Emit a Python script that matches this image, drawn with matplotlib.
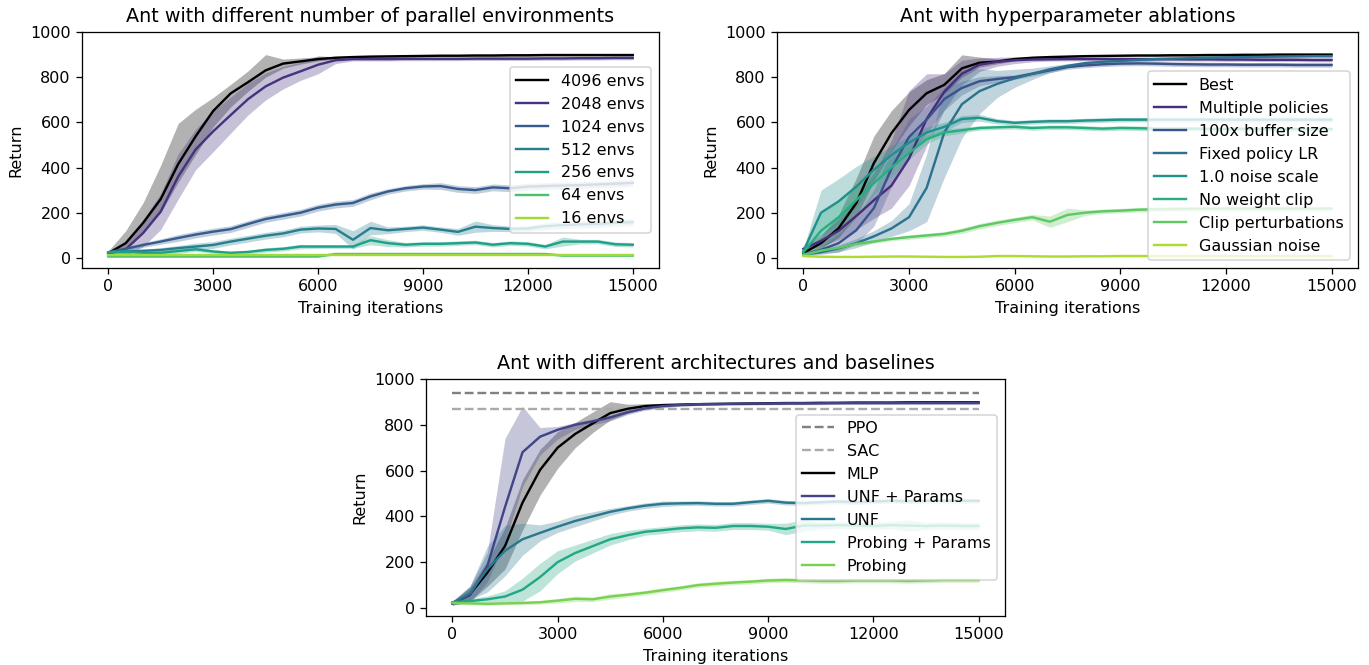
import matplotlib
matplotlib.use("Agg")
import matplotlib.pyplot as plt
import numpy as np

# ---------------- shared x grid ----------------
iterations = [0, 500, 1000, 1500, 2000, 2500, 3000, 3500, 4000, 4500, 5000,
              5500, 6000, 6500, 7000, 7500, 8000, 8500, 9000, 9500, 10000,
              10500, 11000, 11500, 12000, 12500, 13000, 13500, 14000, 14500, 15000]
xticks = [0, 3000, 6000, 9000, 12000, 15000]
yticks = [0, 200, 400, 600, 800, 1000]

# ---------------- panel 1: parallel environments ----------------
env_labels = ["4096 envs", "2048 envs", "1024 envs", "512 envs", "256 envs", "64 envs", "16 envs"]
env4096_mean = [20, 65, 155, 260, 415, 538, 650, 728, 778, 830, 860, 870, 880, 886, 889, 891, 892, 893, 894, 895, 895, 896, 896, 897, 897, 898, 898, 898, 898, 898, 898]
env4096_dn = [8, 25, 40, 60, 80, 80, 70, 60, 40, 30, 20, 12, 8, 6, 5, 5, 5, 5, 5, 5, 5, 5, 5, 5, 5, 5, 5, 5, 5, 5, 5]
env4096_up = [10, 55, 90, 150, 180, 120, 60, 40, 50, 70, 20, 15, 10, 6, 5, 5, 5, 5, 5, 5, 5, 5, 5, 5, 5, 5, 5, 5, 5, 5, 5]
env2048_mean = [20, 38, 110, 205, 360, 480, 560, 632, 703, 759, 798, 826, 855, 875, 880, 880, 880, 881, 881, 881, 881, 882, 882, 882, 882, 883, 883, 884, 884, 885, 885]
env2048_band = [10, 30, 60, 80, 100, 90, 90, 80, 70, 60, 50, 40, 40, 15, 8, 8, 8, 8, 8, 8, 8, 8, 8, 8, 8, 8, 8, 8, 8, 8, 8]
env1024_mean = [25, 40, 57, 72, 88, 103, 116, 127, 150, 172, 186, 200, 222, 236, 243, 272, 294, 308, 316, 318, 305, 300, 312, 308, 315, 318, 320, 322, 325, 328, 332]
env1024_band = [5, 8, 10, 12, 15, 15, 15, 15, 15, 15, 15, 15, 15, 15, 15, 15, 12, 12, 12, 15, 15, 15, 15, 15, 15, 15, 15, 15, 15, 15, 15]
env512_mean = [25, 28, 31, 35, 43, 50, 57, 72, 85, 98, 108, 125, 130, 128, 80, 132, 122, 128, 134, 125, 115, 138, 132, 128, 130, 140, 145, 148, 150, 155, 158]
env512_band = [5, 8, 8, 10, 12, 15, 15, 15, 15, 15, 15, 15, 15, 20, 40, 30, 15, 12, 12, 12, 15, 25, 15, 12, 12, 15, 15, 15, 15, 15, 15]
env256_mean = [25, 28, 22, 22, 30, 38, 28, 22, 26, 35, 40, 50, 50, 50, 50, 78, 65, 58, 62, 62, 65, 68, 58, 65, 62, 50, 72, 72, 72, 60, 58]
env256_band = [5, 8, 10, 10, 10, 10, 8, 8, 8, 10, 10, 10, 8, 8, 8, 20, 15, 10, 10, 10, 10, 10, 10, 10, 10, 10, 20, 10, 10, 10, 10]
env64_mean = [6, 6, 6, 6, 6, 6, 6, 6, 6, 6, 6, 6, 6, 17, 17, 17, 17, 17, 17, 17, 17, 17, 17, 17, 17, 17, 10, 10, 10, 10, 10]
env64_band = [3, 3, 3, 3, 3, 3, 3, 3, 3, 3, 3, 3, 3, 4, 4, 4, 4, 4, 4, 4, 4, 4, 4, 4, 4, 4, 4, 4, 4, 4, 4]
env16_mean = [13, 13, 13, 13, 13, 13, 13, 13, 13, 13, 13, 13, 13, 13, 13, 13, 13, 13, 13, 13, 13, 13, 13, 13, 13, 13, 13, 13, 13, 13, 13]
env16_band = [3, 3, 3, 3, 3, 3, 3, 3, 3, 3, 3, 3, 3, 3, 3, 3, 3, 3, 3, 3, 3, 3, 3, 3, 3, 3, 3, 3, 3, 3, 3]

# ---------------- panel 2: hyperparameter ablations ----------------
abl_labels = ["Best", "Multiple policies", "100x buffer size", "Fixed policy LR",
              "1.0 noise scale", "No weight clip", "Clip perturbations", "Gaussian noise"]
best_mean = [21, 65, 131, 242, 419, 552, 655, 729, 766, 839, 864, 869, 880, 886, 889, 891, 893, 894, 895, 896, 896, 897, 897, 898, 898, 899, 899, 900, 900, 900, 900]
best_dn = [8, 25, 40, 60, 80, 80, 70, 50, 40, 40, 20, 10, 8, 6, 5, 5, 5, 5, 5, 5, 5, 5, 5, 5, 5, 5, 5, 5, 5, 5, 5]
best_up = [8, 30, 60, 110, 120, 100, 80, 60, 50, 60, 25, 12, 8, 6, 5, 5, 5, 5, 5, 5, 5, 5, 5, 5, 5, 5, 5, 5, 5, 5, 5]
multi_mean = [40, 75, 120, 185, 255, 320, 440, 615, 735, 815, 855, 868, 875, 878, 879, 880, 880, 880, 880, 880, 880, 880, 879, 879, 878, 878, 877, 877, 877, 876, 876]
multi_dn = [10, 25, 40, 60, 80, 100, 120, 120, 80, 50, 30, 20, 15, 10, 8, 8, 8, 8, 8, 8, 8, 8, 8, 8, 8, 8, 8, 8, 8, 8, 8]
multi_up = [10, 30, 50, 80, 120, 200, 300, 200, 80, 60, 30, 20, 15, 10, 8, 8, 8, 8, 8, 8, 8, 8, 8, 8, 8, 8, 8, 8, 8, 8, 8]
buffer_mean = [15, 35, 65, 122, 220, 395, 535, 612, 703, 752, 782, 792, 800, 815, 830, 845, 852, 857, 860, 861, 860, 858, 857, 856, 856, 855, 855, 855, 854, 854, 854]
buffer_band = [5, 15, 40, 60, 80, 80, 80, 60, 50, 30, 20, 15, 10, 10, 10, 10, 10, 10, 10, 10, 10, 10, 10, 10, 10, 10, 10, 10, 10, 10, 10]
fixedlr_mean = [15, 25, 42, 65, 95, 130, 180, 310, 555, 680, 738, 770, 795, 815, 835, 850, 862, 868, 872, 876, 880, 882, 884, 886, 888, 889, 890, 891, 892, 893, 893]
fixedlr_band = [5, 10, 15, 20, 25, 35, 60, 150, 200, 150, 100, 60, 40, 25, 15, 10, 8, 8, 8, 8, 8, 8, 8, 8, 8, 8, 8, 8, 8, 8, 8]
noise_mean = [30, 200, 250, 315, 390, 455, 510, 555, 580, 615, 620, 605, 598, 602, 605, 605, 608, 610, 612, 612, 612, 612, 612, 612, 612, 612, 612, 612, 612, 612, 612]
noise_band = [10, 100, 100, 90, 60, 40, 30, 25, 20, 15, 15, 12, 10, 10, 10, 10, 10, 10, 10, 10, 10, 10, 10, 10, 10, 10, 10, 10, 10, 10, 10]
noclip_mean = [25, 120, 180, 255, 330, 400, 465, 525, 555, 565, 575, 578, 580, 575, 578, 578, 575, 572, 575, 574, 572, 572, 572, 571, 571, 571, 570, 570, 570, 570, 570]
noclip_band = [10, 80, 80, 70, 50, 40, 30, 20, 15, 12, 10, 10, 10, 10, 10, 10, 10, 10, 10, 10, 10, 10, 10, 10, 10, 10, 10, 10, 10, 10, 10]
clipp_mean = [13, 32, 45, 62, 72, 84, 92, 99, 106, 120, 140, 155, 168, 180, 160, 190, 200, 206, 209, 213, 215, 216, 217, 217, 218, 218, 218, 218, 218, 218, 218]
clipp_band = [5, 8, 8, 8, 8, 8, 10, 10, 10, 12, 12, 12, 12, 12, 25, 30, 12, 10, 10, 10, 10, 10, 10, 10, 10, 10, 10, 10, 10, 10, 10]
gauss_mean = [8, 5, 4, 4, 5, 6, 6, 5, 4, 4, 5, 8, 8, 7, 6, 6, 7, 7, 8, 8, 8, 8, 8, 8, 8, 8, 8, 8, 8, 8, 8]
gauss_band = [3, 3, 3, 3, 3, 3, 3, 3, 3, 3, 3, 3, 3, 3, 3, 3, 3, 3, 3, 3, 3, 3, 3, 3, 3, 3, 3, 3, 3, 3, 3]

# ---------------- panel 3: architectures and baselines ----------------
arch_labels = ["MLP", "UNF + Params", "UNF", "Probing + Params", "Probing"]
ppo_return = 937
sac_return = 867
mlp_mean = [20, 60, 155, 270, 460, 603, 700, 760, 806, 851, 870, 882, 886, 888, 890, 891, 892, 893, 894, 895, 895, 896, 896, 897, 897, 897, 898, 898, 898, 898, 898]
mlp_dn = [8, 30, 60, 100, 120, 110, 90, 60, 40, 30, 20, 12, 8, 6, 5, 5, 5, 5, 5, 5, 5, 5, 5, 5, 5, 5, 5, 5, 5, 5, 5]
mlp_up = [8, 30, 50, 80, 100, 90, 70, 50, 50, 50, 20, 10, 8, 6, 5, 5, 5, 5, 5, 5, 5, 5, 5, 5, 5, 5, 5, 5, 5, 5, 5]
unfp_mean = [20, 55, 184, 440, 680, 748, 778, 800, 815, 832, 855, 872, 882, 887, 890, 891, 892, 893, 893, 894, 894, 894, 895, 895, 895, 895, 895, 895, 895, 895, 895]
unfp_dn = [8, 30, 70, 150, 150, 80, 40, 20, 15, 15, 10, 8, 8, 6, 6, 6, 6, 6, 6, 6, 6, 6, 6, 6, 6, 6, 6, 6, 6, 6, 6]
unfp_up = [8, 40, 60, 300, 200, 40, 15, 10, 10, 10, 10, 8, 8, 6, 6, 6, 6, 6, 6, 6, 6, 6, 6, 6, 6, 6, 6, 6, 6, 6, 6]
unf_mean = [22, 65, 170, 250, 300, 328, 355, 380, 400, 420, 435, 447, 455, 457, 458, 455, 455, 462, 468, 460, 458, 462, 465, 462, 465, 468, 466, 468, 468, 468, 468]
unf_band = [8, 30, 100, 110, 70, 35, 25, 25, 20, 15, 12, 12, 12, 10, 10, 10, 10, 10, 10, 10, 10, 10, 10, 10, 10, 10, 10, 10, 10, 10, 10]
probp_mean = [25, 30, 38, 50, 80, 135, 200, 240, 270, 300, 318, 333, 340, 348, 352, 350, 358, 358, 355, 345, 360, 360, 362, 360, 358, 362, 360, 358, 360, 358, 358]
probp_band = [8, 10, 15, 25, 50, 60, 50, 35, 30, 25, 20, 15, 15, 15, 15, 15, 15, 15, 15, 25, 25, 15, 15, 15, 15, 15, 25, 15, 15, 15, 15]
probe_mean = [22, 20, 18, 20, 22, 25, 32, 40, 38, 50, 58, 67, 78, 88, 100, 106, 111, 115, 120, 122, 120, 118, 118, 120, 120, 120, 118, 120, 122, 122, 122]
probe_band = [6, 6, 6, 6, 8, 8, 10, 12, 10, 12, 10, 10, 10, 10, 10, 10, 10, 10, 10, 10, 10, 10, 10, 10, 10, 10, 10, 10, 10, 10, 10]


def viridis_colors(n):
    return [plt.cm.viridis(v) for v in np.linspace(0, 1, n + 2)[1:-1]]


def draw(ax, labels, means, dns, ups, colors):
    x = np.array(iterations)
    for lab, m, d, u, c in zip(labels, means, dns, ups, colors):
        m = np.array(m, float)
        ax.fill_between(x, m - np.array(d), m + np.array(u), color=c, alpha=0.3, linewidth=0)
        ax.plot(x, m, color=c, linewidth=1.5, label=lab)


def style(ax, title, ybottom):
    ax.set_title(title, fontsize=12)
    ax.set_xlabel("Training iterations", fontsize=10)
    ax.set_ylabel("Return", fontsize=10)
    ax.set_xticks(xticks)
    ax.set_yticks(yticks)
    ax.set_xlim(-750, 15750)
    ax.set_ylim(ybottom, 1000)


W, H = 1369, 665
DPI = 115
fig = plt.figure(figsize=(W / DPI, H / DPI), dpi=DPI)
ax1 = fig.add_axes([82 / W, 1 - 268 / H, 577 / W, 236 / H])
ax2 = fig.add_axes([777 / W, 1 - 268 / H, 581 / W, 236 / H])
ax3 = fig.add_axes([426 / W, 1 - 616 / H, 579 / W, 237 / H])

# panel 1
c1 = ["black"] + viridis_colors(6)
draw(ax1, env_labels,
     [env4096_mean, env2048_mean, env1024_mean, env512_mean, env256_mean, env64_mean, env16_mean],
     [env4096_dn, env2048_band, env1024_band, env512_band, env256_band, env64_band, env16_band],
     [env4096_up, env2048_band, env1024_band, env512_band, env256_band, env64_band, env16_band],
     c1)
style(ax1, "Ant with different number of parallel environments", -45)
ax1.legend(loc="center right", fontsize=10)

# panel 2
c2 = ["black"] + viridis_colors(7)
draw(ax2, abl_labels,
     [best_mean, multi_mean, buffer_mean, fixedlr_mean, noise_mean, noclip_mean, clipp_mean, gauss_mean],
     [best_dn, multi_dn, buffer_band, fixedlr_band, noise_band, noclip_band, clipp_band, gauss_band],
     [best_up, multi_up, buffer_band, fixedlr_band, noise_band, noclip_band, clipp_band, gauss_band],
     c2)
style(ax2, "Ant with hyperparameter ablations", -45)
ax2.legend(loc="lower right", fontsize=10)

# panel 3
ax3.plot([iterations[0], iterations[-1]], [ppo_return, ppo_return], "--", color="#808080", linewidth=1.5, label="PPO")
ax3.plot([iterations[0], iterations[-1]], [sac_return, sac_return], "--", color="#aaaaaa", linewidth=1.5, label="SAC")
c3 = ["black"] + viridis_colors(4)
draw(ax3, arch_labels,
     [mlp_mean, unfp_mean, unf_mean, probp_mean, probe_mean],
     [mlp_dn, unfp_dn, unf_band, probp_band, probe_band],
     [mlp_up, unfp_up, unf_band, probp_band, probe_band],
     c3)
style(ax3, "Ant with different architectures and baselines", -35)
ax3.legend(loc="center right", fontsize=10)

fig.savefig("out.png", dpi=DPI)
